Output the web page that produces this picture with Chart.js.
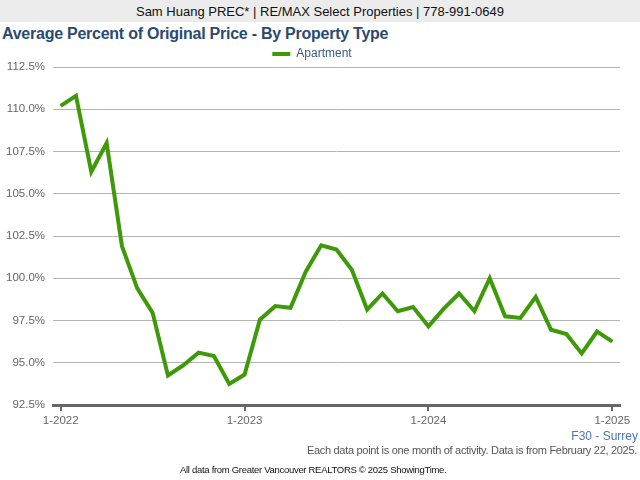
<!DOCTYPE html>
<html>
<head>
<meta charset="utf-8">
<script src="https://cdn.jsdelivr.net/npm/chart.js@4.4.1/dist/chart.umd.min.js"></script>
<style>
  html, body { margin: 0; padding: 0; background: #fff; }
  body { width: 640px; height: 480px; position: relative; overflow: hidden; font-family: "Liberation Sans", Arial, sans-serif; }
  .banner { position: absolute; left: 0; top: 0; width: 640px; height: 22px; background: #ececec; font-size: 13px; line-height: 23px; text-align: center; color: #111; }
  .title { position: absolute; left: 2px; top: 25px; font-size: 16px; font-weight: bold; color: #2b4a6f; letter-spacing: -0.25px; }
  .chart-box { position: absolute; left: 0; top: 44px; width: 640px; height: 390px; }
  .area { position: absolute; right: 2px; top: 429px; font-size: 12px; color: #4a78b0; }
  .note { position: absolute; right: 3px; top: 444px; font-size: 11px; color: #555; letter-spacing: -0.3px; }
  .credit { position: absolute; left: 180px; top: 464px; font-size: 9.5px; color: #111; letter-spacing: -0.3px; }
</style>
</head>
<body>
<div class="banner">Sam Huang PREC* | RE/MAX Select Properties | 778-991-0649</div>
<div class="title">Average Percent of Original Price - By Property Type</div>
<div class="chart-box"><canvas id="priceChart" width="640" height="390"></canvas></div>
<div class="area">F30 - Surrey</div>
<div class="note">Each data point is one month of activity. Data is from February 22, 2025.</div>
<div class="credit">All data from Greater Vancouver REALTORS © 2025 ShowingTime.</div>

<script>
// 月份标签 1-2022 .. 1-2025
const months = [
    '1-2022','2-2022','3-2022','4-2022','5-2022','6-2022','7-2022','8-2022','9-2022','10-2022','11-2022','12-2022',
    '1-2023','2-2023','3-2023','4-2023','5-2023','6-2023','7-2023','8-2023','9-2023','10-2023','11-2023','12-2023',
    '1-2024','2-2024','3-2024','4-2024','5-2024','6-2024','7-2024','8-2024','9-2024','10-2024','11-2024','12-2024',
    '1-2025'
];

// Apartment 数据 (%)
const apartment = [
    110.2, 110.8, 106.3, 108.0, 101.9, 99.4, 97.95, 94.25, 94.85, 95.6, 95.4, 93.75,
    94.3, 97.55, 98.35, 98.25, 100.4, 101.95, 101.7, 100.5, 98.15, 99.1, 98.05, 98.3,
    97.15, 98.2, 99.1, 98.05, 100.0, 97.75, 97.65, 98.9, 96.95, 96.7, 95.55, 96.85,
    96.25
];

// 刻度
const yearTicks = [0, 12, 24, 36];
const yMin = 92.5, yMax = 112.5, yStep = 2.5;

const seriesColor = '#3f9a0a';

// 固定图例高度
const legendHeight = {
    id: 'legendHeight',
    beforeInit(chart) {
        const fit = chart.legend.fit;
        chart.legend.fit = function() {
            fit.call(this);
            this.height = 23;
        };
    }
};

function initChart() {
    const ctx = document.getElementById('priceChart').getContext('2d');
    new Chart(ctx, {
        type: 'line',
        data: {
            datasets: [{
                label: 'Apartment',
                data: apartment.map((v, i) => ({ x: i, y: v })),
                borderColor: seriesColor,
                backgroundColor: seriesColor,
                borderWidth: 4,
                pointRadius: 0,
                tension: 0,
                fill: false
            }]
        },
        options: {
            responsive: false,
            animation: false,
            layout: { padding: { left: 4, right: 20, top: 0, bottom: 0 } },
            plugins: {
                tooltip: { enabled: false },
                legend: {
                    display: true,
                    labels: {
                        usePointStyle: true,
                        pointStyle: 'line',
                        pointStyleWidth: 18,
                        boxHeight: 12,
                        padding: 4,
                        color: '#3a5a82',
                        font: { family: 'Liberation Sans', size: 12 }
                    }
                }
            },
            scales: {
                x: {
                    type: 'linear',
                    min: -0.5,
                    max: 36.5,
                    afterBuildTicks: scale => { scale.ticks = yearTicks.map(v => ({ value: v })); },
                    afterFit: scale => { scale.height = 29; },
                    ticks: {
                        autoSkip: false,
                        maxRotation: 0,
                        padding: 3,
                        color: '#666',
                        font: { family: 'Liberation Sans', size: 11.5 },
                        callback: v => months[v]
                    },
                    grid: {
                        drawOnChartArea: false,
                        drawTicks: true,
                        tickLength: 6,
                        lineWidth: 2,
                        color: '#666'
                    },
                    border: { display: true, color: '#666', width: 3 }
                },
                y: {
                    min: yMin,
                    max: yMax,
                    afterFit: scale => { scale.width = 49; },
                    ticks: {
                        stepSize: yStep,
                        padding: 8,
                        color: '#666',
                        font: { family: 'Liberation Sans', size: 11.5 },
                        callback: v => v.toFixed(1) + '%'
                    },
                    grid: {
                        color: '#b4b4b4',
                        lineWidth: 1,
                        drawTicks: false
                    },
                    border: { display: false }
                }
            }
        },
        plugins: [legendHeight]
    });
}

initChart();
</script>
</body>
</html>
